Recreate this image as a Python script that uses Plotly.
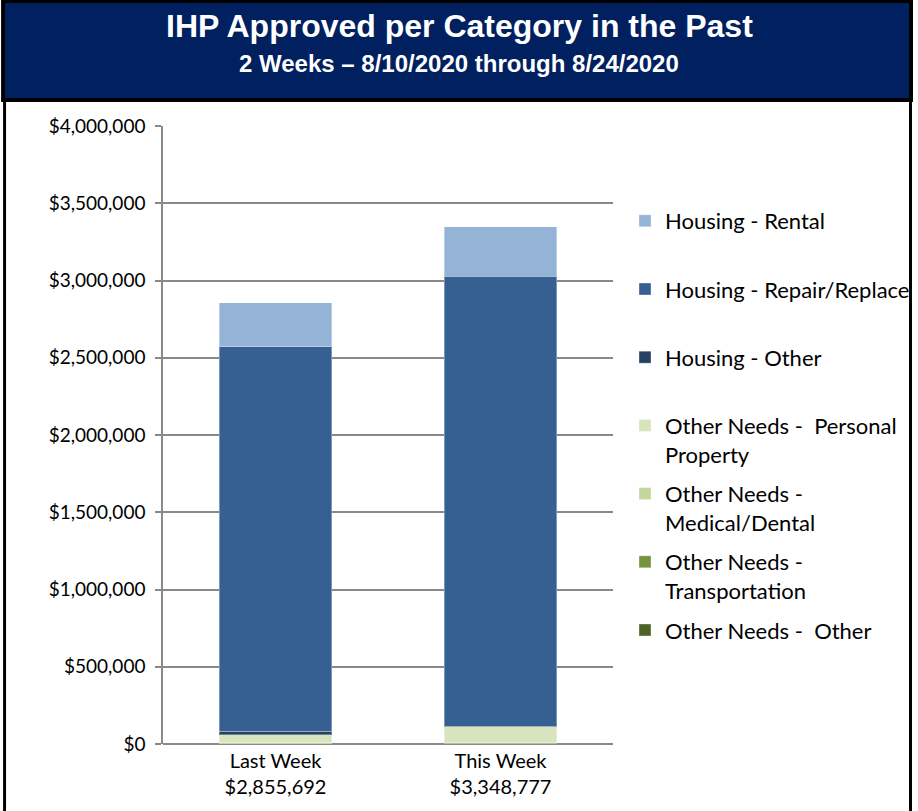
import plotly.graph_objects as go

# ---- data ----
categories = ["Last Week", "This Week"]
series_names = [
    "Other Needs -  Other",
    "Other Needs -<br>Transportation",
    "Other Needs -<br>Medical/Dental",
    "Other Needs -  Personal<br>Property",
    "Housing - Other",
    "Housing - Repair/Replace",
    "Housing - Rental",
]
other_needs_other = [3192, 4277]
other_needs_transportation = [2500, 2500]
other_needs_medical = [3000, 4000]
other_needs_personal = [52000, 100000]
housing_other = [21000, 3000]
housing_repair = [2488000, 2915000]
housing_rental = [286000, 320000]
y_tick_values = [0, 500000, 1000000, 1500000, 2000000, 2500000, 3000000, 3500000, 4000000]

series_values = [
    other_needs_other,
    other_needs_transportation,
    other_needs_medical,
    other_needs_personal,
    housing_other,
    housing_repair,
    housing_rental,
]
colors = ["#4F6228", "#77933C", "#C3D69B", "#D7E4BD", "#254061", "#376092", "#95B3D7"]

totals = [sum(s[i] for s in series_values) for i in range(len(categories))]
tick_text = [f"{c}<br>${t:,.0f}" for c, t in zip(categories, totals)]
y_tick_text = [f"${v:,.0f}" for v in y_tick_values]

# ---- geometry helpers (pixel -> paper) ----
W, H = 918, 811
L, R, T, B = 163, 616, 126, 744
def px(x):
    return (x - L) / (R - L)
def py(y):
    return (B - y) / (B - T)

fig = go.Figure()
n = len(series_names)
for i, (name, vals, col) in enumerate(zip(series_names, series_values, colors)):
    label = name if "<br>" in name else name + "<br> "
    fig.add_trace(go.Bar(
        x=categories, y=vals, name=label, legendgroup=f"g{i}", legendrank=n - i,
        marker=dict(color=col, line=dict(color="rgba(255,255,255,0.35)", width=1)),
    ))

FONT = "Lato"
fig.update_layout(
    width=W, height=H,
    margin=dict(l=L, r=W - R, t=T, b=H - B, pad=0),
    barmode="stack", bargap=0.5,
    paper_bgcolor="white", plot_bgcolor="white",
    font=dict(family=FONT, size=19, color="black"),
    showlegend=True,
    legend=dict(
        traceorder="grouped", tracegroupgap=8, valign="top",
        xref="container", yref="container", x=625 / W, y=1 - 200 / H,
        xanchor="left", yanchor="top", maxheight=700,
        font=dict(family=FONT, size=22, color="black"),
        bgcolor="rgba(0,0,0,0)",
    ),
    xaxis=dict(
        tickmode="array", tickvals=categories, ticktext=tick_text,
        showline=False, ticks="", tickfont=dict(size=20), ticklabelstandoff=3,
    ),
    yaxis=dict(
        range=[0, 4000000], tickmode="array", tickvals=y_tick_values, ticktext=y_tick_text,
        showgrid=True, gridcolor="#898989", gridwidth=1.5,
        showline=True, linecolor="#898989", linewidth=1.5,
        ticks="outside", ticklen=6, tickcolor="#898989", tickwidth=1.5,
        zeroline=True, zerolinecolor="#898989", zerolinewidth=1.5,
        tickfont=dict(size=19), ticklabelstandoff=6,
    ),
)

shapes = [
    # header black band and navy fill
    dict(type="rect", xref="paper", yref="paper", x0=px(0), x1=px(918), y0=py(102), y1=py(0),
         fillcolor="black", line=dict(width=0), layer="below"),
    dict(type="rect", xref="paper", yref="paper", x0=px(4), x1=px(914), y0=py(98), y1=py(3),
         fillcolor="#002060", line=dict(width=0), layer="below"),
    # side borders
    dict(type="rect", xref="paper", yref="paper", x0=px(2), x1=px(5), y0=py(811), y1=py(100),
         fillcolor="black", line=dict(width=0), layer="below"),
    dict(type="rect", xref="paper", yref="paper", x0=px(914), x1=px(917), y0=py(811), y1=py(100),
         fillcolor="black", line=dict(width=0), layer="below"),
]
fig.update_layout(shapes=shapes)

fig.add_annotation(text="<b>IHP Approved per Category in the Past</b>", xref="paper", yref="paper",
                   x=px(461), y=py(26), showarrow=False, xanchor="center", yanchor="middle",
                   font=dict(family="Liberation Sans", size=32, color="white"))
fig.add_annotation(text="<b>2 Weeks \u2013 8/10/2020 through 8/24/2020</b>", xref="paper", yref="paper",
                   x=px(461), y=py(63), showarrow=False, xanchor="center", yanchor="middle",
                   font=dict(family="Liberation Sans", size=24, color="white"))

fig.write_html("out.html", config={"displayModeBar": False},
               post_script="document.body.style.margin='0';")
